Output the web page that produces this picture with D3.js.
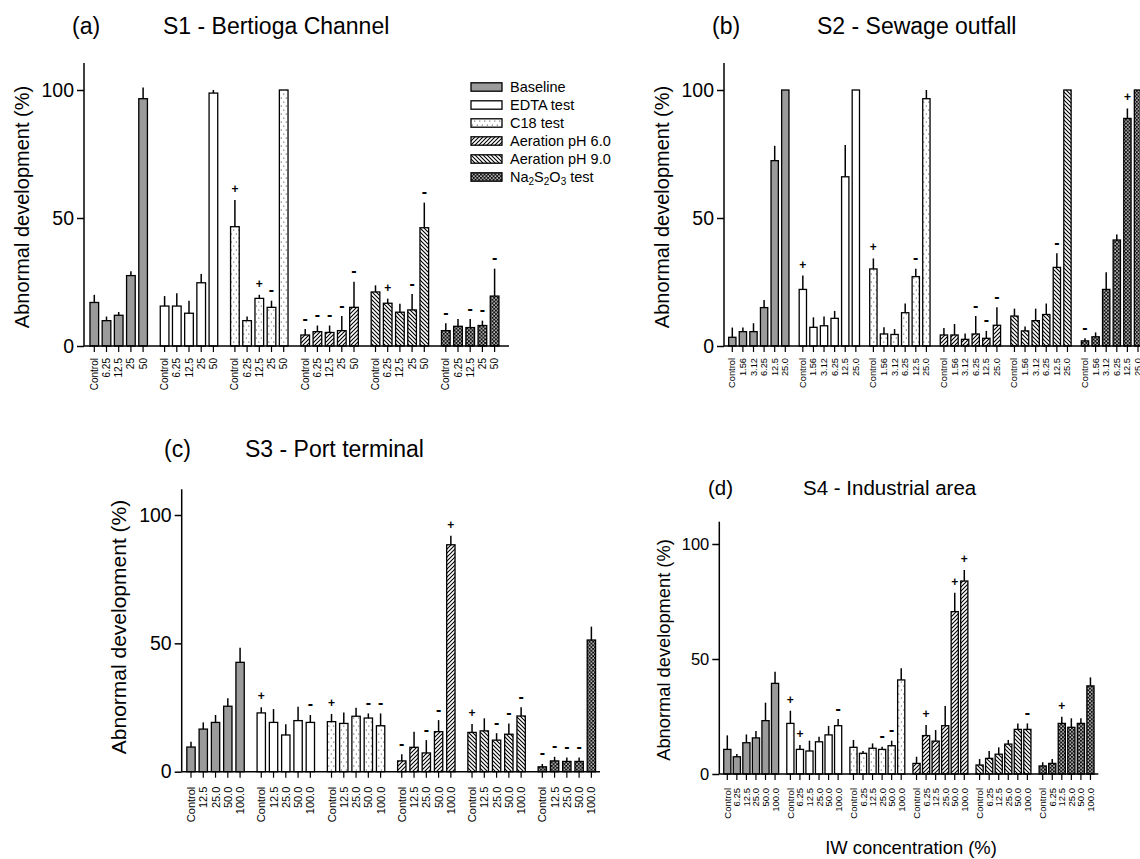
<!DOCTYPE html>
<html>
<head>
<meta charset="utf-8">
<script src="https://cdn.jsdelivr.net/npm/d3@7"></script>
<style>
  html, body { margin: 0; padding: 0; background: #fff; }
  svg { display: block; font-family: "Liberation Sans", Arial, sans-serif; }
</style>
</head>
<body>
<svg id="chart" width="1140" height="859"></svg>
<script>
// ---------------- DATA ----------------
const treatments = ["Baseline", "EDTA test", "C18 test", "Aeration pH 6.0", "Aeration pH 9.0", "Na2S2O3 test"];

// Panel (a) S1 - Bertioga Channel
const concA = ["Control", "6.25", "12.5", "25", "50"];
const meanA = [
  [17, 9.9, 12, 27.5, 96.6],
  [15.6, 15.6, 12.8, 24.7, 98.8],
  [46.6, 9.9, 18.6, 15.1, 100],
  [4.3, 5.6, 5.3, 6, 15.1],
  [21.1, 16.7, 13.2, 14.1, 46.2],
  [6, 7.7, 7.2, 8, 19.5]
];
const errA = [
  [3, 1.6, 1.3, 1.7, 4.4],
  [3.9, 5, 4.9, 3.4, 1.2],
  [10.4, 1.6, 1.4, 2.6, 0],
  [2.3, 2.4, 2.7, 5.7, 10],
  [2.6, 1.8, 3.3, 6.2, 9.8],
  [2.9, 2.8, 3.3, 1.9, 10.7]
];
const markA = [
  ["", "", "", "", ""],
  ["", "", "", "", ""],
  ["+", "", "+", "-", ""],
  ["-", "-", "-", "-", "-"],
  ["", "+", "", "-", "-"],
  ["-", "", "-", "-", "-"]
];

// Panel (b) S2 - Sewage outfall
const concB = ["Control", "1.56", "3.12", "6.25", "12.5", "25.0"];
const meanB = [
  [3.4, 5.6, 5.6, 15, 72.4, 100],
  [22.1, 7.3, 7.9, 10.8, 66.1, 100],
  [30.1, 4.7, 4.5, 13, 27.1, 96.6],
  [4.3, 4.3, 2.6, 4.7, 3, 8.1],
  [11.7, 5.9, 9.9, 12.3, 30.7, 100],
  [2, 3.6, 22.1, 41.4, 88.9, 100]
];
const errB = [
  [3.8, 1.6, 3.3, 3, 5.8, 0],
  [5.4, 3.9, 3.6, 2.9, 12.4, 0],
  [4.1, 2.6, 2.1, 3.6, 3.1, 3.4],
  [2.7, 4.3, 2.3, 7, 2.9, 7],
  [2.9, 1.7, 4.7, 4.3, 5.5, 0],
  [1, 1.7, 6.7, 2.2, 3.9, 0]
];
const markB = [
  ["", "", "", "", "", ""],
  ["+", "", "", "", "", ""],
  ["+", "", "", "", "-", ""],
  ["", "", "", "-", "-", "-"],
  ["", "", "", "", "-", ""],
  ["-", "", "", "", "+", ""]
];

// Panel (c) S3 - Port terminal
const concC = ["Control", "12.5", "25.0", "50.0", "100.0"];
const meanC = [
  [9.6, 16.6, 19.2, 25.5, 42.6],
  [22.9, 19.2, 14.3, 19.9, 19.2],
  [19.5, 18.8, 21.6, 20.9, 17.9],
  [4.2, 9.5, 7.3, 15.6, 88.4],
  [15.3, 15.9, 12.3, 14.6, 21.7],
  [1.9, 4.2, 4, 4, 51.3]
];
const errC = [
  [2.1, 2.6, 2.9, 3.1, 5.7],
  [2.2, 5.2, 4.2, 5.4, 2.9],
  [3, 4.3, 3.3, 1.8, 4.8],
  [2.6, 6.1, 5, 4.5, 3.5],
  [3.3, 4.9, 2.7, 4.2, 3.4],
  [1.1, 1.6, 1.5, 1.5, 5.2]
];
const markC = [
  ["", "", "", "", ""],
  ["+", "", "", "", "-"],
  ["+", "", "", "-", "-"],
  ["-", "", "-", "-", "+"],
  ["+", "", "-", "-", "-"],
  ["-", "-", "-", "-", ""]
];

// Panel (d) S4 - Industrial area
const concD = ["Control", "6.25", "12.5", "25.0", "50.0", "100.0"];
const meanD = [
  [10.7, 7.5, 13.6, 15.7, 23.2, 39.4],
  [22, 10.7, 10, 14, 17, 21],
  [11.6, 9, 11.2, 10.7, 12.3, 40.9],
  [4.6, 16.7, 14.3, 21, 70.6, 83.9],
  [3.9, 6.8, 8.6, 13, 19.4, 19.4],
  [3.5, 4.6, 22, 20.3, 22, 38.3]
];
const errD = [
  [6.1, 1.2, 3.6, 3, 7.8, 5.1],
  [5.5, 1.9, 4.5, 2.2, 3.9, 2.9],
  [3.2, 1, 2.1, 1.2, 2.2, 5.1],
  [2.9, 4.6, 4.8, 8.6, 8.2, 4.8],
  [2.6, 3.2, 3, 1.8, 2.6, 2.6],
  [1.6, 1.9, 2.9, 3.9, 2.2, 3.7]
];
const markD = [
  ["", "", "", "", "", ""],
  ["+", "+", "", "", "", "-"],
  ["", "", "", "-", "-", ""],
  ["", "+", "", "", "+", "+"],
  ["", "", "", "", "", "-"],
  ["", "", "+", "", "", ""]
];

const yTicks = [0, 50, 100];

// ---------------- LAYOUT ----------------
const layouts = [
  { tag: "(a)", title: "S1 - Bertioga Channel", conc: concA, mean: meanA, err: errA, mark: markA,
    axisX: 84, y0: 346, y100: 90, yTop: 63, xEnd: 509, firstTick: 94.3, slot: 12.2, gstep: 70.3, pad: 0.29,
    tickFont: 19.5, labFont: 10, labOff: 12, ylabFont: 20, ylabX: 22, ylabY: 207,
    tagX: 72, titleX: 163, titleY: 34, titleFont: 23 },
  { tag: "(b)", title: "S2 - Sewage outfall", conc: concB, mean: meanB, err: errB, mark: markB,
    axisX: 724, y0: 346, y100: 90, yTop: 63, xEnd: 1160, firstTick: 732.3, slot: 10.6, gstep: 70.54, pad: 0.31,
    tickFont: 19.5, labFont: 9.3, labOff: 12, ylabFont: 20, ylabX: 662, ylabY: 207,
    tagX: 712, titleX: 817, titleY: 34, titleFont: 23 },
  { tag: "(c)", title: "S3 - Port terminal", conc: concC, mean: meanC, err: errC, mark: markC,
    axisX: 181.7, y0: 771.7, y100: 515, yTop: 489.3, xEnd: 600, firstTick: 191, slot: 12.27, gstep: 70.26, pad: 0.32,
    tickFont: 19.5, labFont: 11, labOff: 15, ylabFont: 21, ylabX: 118, ylabY: 627,
    tagX: 164, titleX: 245, titleY: 457, titleFont: 23 },
  { tag: "(d)", title: "S4 - Industrial area", conc: concD, mean: meanD, err: errD, mark: markD,
    axisX: 719.3, y0: 774, y100: 544, yTop: 521.7, xEnd: 1098.3, firstTick: 727.3, slot: 9.55, gstep: 63.08, pad: 0.25,
    tickFont: 16.5, labFont: 9.5, labOff: 14, ylabFont: 18.3, ylabX: 663, ylabY: 650,
    tagX: 708, titleX: 803, titleY: 495, titleFont: 20.5 }
];

const fills = ["#9b9b9b", "#ffffff", "url(#pDots)", "url(#pDiagUp)", "url(#pDiagDown)", "url(#pCheck)"];

// ---------------- DRAW ----------------
const svg = d3.select("#chart");
const defs = svg.append("defs");

// dotted (C18)
const pd = defs.append("pattern").attr("id", "pDots").attr("patternUnits", "userSpaceOnUse")
  .attr("width", 5).attr("height", 8);
pd.append("rect").attr("width", 5).attr("height", 8).attr("fill", "#fff");
pd.append("circle").attr("cx", 1.3).attr("cy", 2).attr("r", 0.6).attr("fill", "#222");
pd.append("circle").attr("cx", 3.8).attr("cy", 6).attr("r", 0.6).attr("fill", "#222");

// ascending diagonal (pH 6.0)
const pu = defs.append("pattern").attr("id", "pDiagUp").attr("patternUnits", "userSpaceOnUse")
  .attr("width", 4).attr("height", 4);
pu.append("rect").attr("width", 4).attr("height", 4).attr("fill", "#fff");
pu.append("path").attr("d", "M-1,1 l2,-2 M0,4 l4,-4 M3,5 l2,-2").attr("stroke", "#000").attr("stroke-width", 1.1);

// descending diagonal (pH 9.0)
const pw = defs.append("pattern").attr("id", "pDiagDown").attr("patternUnits", "userSpaceOnUse")
  .attr("width", 4).attr("height", 4);
pw.append("rect").attr("width", 4).attr("height", 4).attr("fill", "#fff");
pw.append("path").attr("d", "M-1,3 l2,2 M0,0 l4,4 M3,-1 l2,2").attr("stroke", "#000").attr("stroke-width", 1.1);

// checker (Na2S2O3)
const pc = defs.append("pattern").attr("id", "pCheck").attr("patternUnits", "userSpaceOnUse")
  .attr("width", 3.6).attr("height", 3.6);
pc.append("rect").attr("width", 3.6).attr("height", 3.6).attr("fill", "#111");
pc.append("rect").attr("x", 0.3).attr("y", 0.3).attr("width", 1.4).attr("height", 1.4).attr("fill", "#fff");
pc.append("rect").attr("x", 2.1).attr("y", 2.1).attr("width", 1.4).attr("height", 1.4).attr("fill", "#fff");

layouts.forEach(L => {
  const g = svg.append("g");
  const n = L.conc.length;
  const G = treatments.length;
  const pIn = 1 - (n * L.slot) / L.gstep;
  const gStart = L.firstTick - L.slot / 2;

  const xg = d3.scaleBand().domain(treatments)
    .range([gStart, gStart + L.gstep * (G - pIn)])
    .paddingInner(pIn).paddingOuter(0);
  const xi = d3.scaleBand().domain(L.conc)
    .range([0, n * L.slot]).paddingInner(L.pad).paddingOuter(L.pad / 2);

  const yMaxVal = 100 * (L.y0 - L.yTop) / (L.y0 - L.y100);
  const y = d3.scaleLinear().domain([0, yMaxVal]).range([L.y0, L.yTop]);

  const rows = [];
  treatments.forEach((t, gi) => {
    L.conc.forEach((c, ci) => {
      rows.push({ t, c, gi, v: L.mean[gi][ci], e: L.err[gi][ci], m: L.mark[gi][ci] });
    });
  });
  const cx = d => xg(d.t) + xi(d.c) + xi.bandwidth() / 2;

  // bars
  g.selectAll("rect.bar").data(rows).join("rect")
    .attr("class", "bar")
    .attr("x", d => xg(d.t) + xi(d.c))
    .attr("width", xi.bandwidth())
    .attr("y", d => y(d.v))
    .attr("height", d => y(0) - y(d.v))
    .attr("fill", d => fills[d.gi])
    .attr("stroke", "#000").attr("stroke-width", 1.3);

  // error bars (upper only)
  g.selectAll("line.err").data(rows.filter(d => d.e > 0)).join("line")
    .attr("class", "err")
    .attr("x1", cx).attr("x2", cx)
    .attr("y1", d => y(d.v)).attr("y2", d => y(d.v + d.e))
    .attr("stroke", "#000").attr("stroke-width", 1.5);

  // significance marks
  g.selectAll("text.mark").data(rows.filter(d => d.m)).join("text")
    .attr("class", "mark")
    .attr("x", cx)
    .attr("y", d => y(d.v + d.e) - 11)
    .attr("text-anchor", "middle")
    .attr("dominant-baseline", "central")
    .attr("font-size", d => d.m === "+" ? 12 : 16)
    .attr("font-weight", "bold")
    .attr("fill", "#000")
    .text(d => d.m);

  // y axis
  const yAxis = d3.axisLeft(y).tickValues(yTicks).tickSize(7).tickPadding(3).tickFormat(d3.format("d"));
  const ya = g.append("g").attr("transform", `translate(${L.axisX},0)`).call(yAxis);
  ya.select(".domain").attr("d", `M0,${L.y0}V${L.yTop}`).attr("stroke-width", 1.5);
  ya.selectAll(".tick line").attr("stroke-width", 1.5);
  ya.selectAll(".tick text").attr("font-size", L.tickFont).attr("fill", "#000")
    .attr("font-family", "'Liberation Sans', Arial, sans-serif");

  // x axis line
  g.append("line").attr("x1", L.axisX).attr("x2", L.xEnd).attr("y1", L.y0).attr("y2", L.y0)
    .attr("stroke", "#000").attr("stroke-width", 1.5);
  // x ticks
  g.selectAll("line.xt").data(rows).join("line")
    .attr("class", "xt")
    .attr("x1", cx).attr("x2", cx).attr("y1", L.y0).attr("y2", L.y0 + 6)
    .attr("stroke", "#000").attr("stroke-width", 1.2);
  g.selectAll("text.xl").data(rows).join("text")
    .attr("class", "xl")
    .attr("transform", d => `translate(${cx(d)},${L.y0 + L.labOff}) rotate(-90)`)
    .attr("text-anchor", "end")
    .attr("dominant-baseline", "central")
    .attr("font-size", L.labFont)
    .text(d => d.c);

  // y label
  g.append("text")
    .attr("transform", `translate(${L.ylabX},${L.ylabY}) rotate(-90)`)
    .attr("text-anchor", "middle").attr("dominant-baseline", "central")
    .attr("font-size", L.ylabFont)
    .text("Abnormal development (%)");

  // titles
  g.append("text").attr("x", L.tagX).attr("y", L.titleY).attr("font-size", L.titleFont).text(L.tag);
  g.append("text").attr("x", L.titleX).attr("y", L.titleY).attr("font-size", L.titleFont).text(L.title);
});

// x label of panel (d)
svg.append("text").attr("x", 911).attr("y", 854).attr("text-anchor", "middle")
  .attr("font-size", 18.4).text("IW concentration (%)");

// legend (panel a)
const leg = svg.append("g").attr("transform", "translate(471,87)");
treatments.forEach((t, i) => {
  const row = leg.append("g").attr("transform", `translate(0,${i * 18})`);
  row.append("rect").attr("x", 0).attr("y", -4.2).attr("width", 31).attr("height", 8.4)
    .attr("fill", fills[i]).attr("stroke", "#000").attr("stroke-width", 1.3);
  const tx = row.append("text").attr("x", 39).attr("y", 0).attr("dominant-baseline", "central")
    .attr("font-size", 14.5);
  if (t === "Na2S2O3 test") {
    tx.append("tspan").text("Na");
    tx.append("tspan").attr("font-size", 10).attr("dy", 4).text("2");
    tx.append("tspan").attr("dy", -4).text("S");
    tx.append("tspan").attr("font-size", 10).attr("dy", 4).text("2");
    tx.append("tspan").attr("dy", -4).text("O");
    tx.append("tspan").attr("font-size", 10).attr("dy", 4).text("3");
    tx.append("tspan").attr("dy", -4).text(" test");
  } else {
    tx.text(t);
  }
});
</script>
</body>
</html>
